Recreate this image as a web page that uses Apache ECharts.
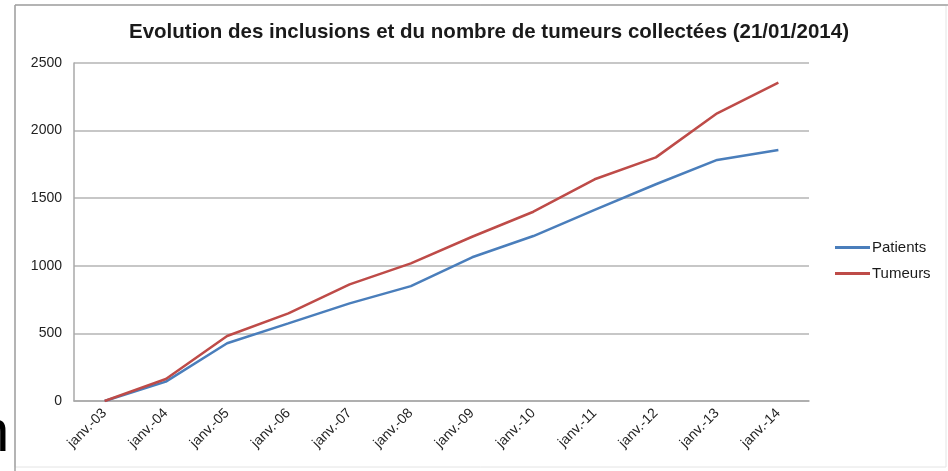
<!DOCTYPE html>
<html>
<head>
<meta charset="utf-8">
<script src="https://cdn.jsdelivr.net/npm/echarts@6/dist/echarts.min.js"></script>
<style>
  html, body { margin: 0; padding: 0; background: #fff; }
  #main { width: 948px; height: 471px; }
</style>
</head>
<body>
<div id="main"></div>
<script>
// catégories (mois de janvier de chaque année)
var months = ['janv.-03', 'janv.-04', 'janv.-05', 'janv.-06', 'janv.-07', 'janv.-08',
              'janv.-09', 'janv.-10', 'janv.-11', 'janv.-12', 'janv.-13', 'janv.-14'];
var patients = [0, 143, 427, 574, 722, 850, 1063, 1220, 1413, 1603, 1783, 1857];
var tumeurs = [0, 163, 481, 648, 863, 1018, 1215, 1400, 1640, 1802, 2128, 2355];
var yTicks = [0, 500, 1000, 1500, 2000, 2500];

var font = '"Liberation Sans", Arial, sans-serif';

var myChart = echarts.init(document.getElementById('main'));
myChart.setOption({
    animation: false,
    title: {
        text: 'Evolution des inclusions et du nombre de tumeurs collectées (21/01/2014)',
        left: 484,
        textAlign: 'center',
        top: 17,
        textStyle: {fontFamily: font, fontSize: 20.5, fontWeight: 'bold', color: '#1a1a1a'}
    },
    legend: {
        orient: 'vertical',
        left: 830,
        top: 235,
        icon: 'rect',
        itemWidth: 35,
        itemHeight: 3,
        itemGap: 11,
        textStyle: {fontFamily: font, fontSize: 15, color: '#1a1a1a', padding: [0, 0, 0, -3]},
        data: ['Patients', 'Tumeurs']
    },
    grid: {left: 74, right: 139, top: 63, bottom: 70, containLabel: false},
    xAxis: {
        type: 'category',
        data: months,
        boundaryGap: true,
        axisLine: {lineStyle: {color: '#a8a8a8', width: 1.5}},
        axisTick: {show: false},
        axisLabel: {rotate: 45, interval: 0, margin: 10, fontFamily: font, fontSize: 14, color: '#222'}
    },
    yAxis: {
        type: 'value',
        min: yTicks[0],
        max: yTicks[yTicks.length - 1],
        interval: 500,
        axisLine: {show: true, lineStyle: {color: '#a8a8a8', width: 1.5}},
        axisTick: {show: false},
        splitLine: {lineStyle: {color: '#b4b4b4', width: 1.5}},
        axisLabel: {
            margin: 12, fontFamily: font, fontSize: 14, color: '#222',
            formatter: function (v) { return String(v); }
        }
    },
    series: [
        {
            name: 'Patients',
            type: 'line',
            data: patients,
            symbol: 'none',
            lineStyle: {color: '#4a7ebb', width: 2.5},
            itemStyle: {color: '#4a7ebb'}
        },
        {
            name: 'Tumeurs',
            type: 'line',
            data: tumeurs,
            symbol: 'none',
            lineStyle: {color: '#be4b48', width: 2.5},
            itemStyle: {color: '#be4b48'}
        }
    ],
    graphic: [
        // cadre du graphique
        {type: 'rect', shape: {x: 15, y: 5, width: 931, height: 462}, style: {fill: 'none', stroke: '#e4e4e4', lineWidth: 1}},
        {type: 'line', shape: {x1: 15, y1: 5, x2: 948, y2: 5}, style: {stroke: '#a0a0a0', lineWidth: 1.5}},
        {type: 'line', shape: {x1: 15, y1: 5, x2: 15, y2: 471}, style: {stroke: '#a0a0a0', lineWidth: 1.5}},
        // reste d'une lettre de la diapositive
        {type: 'text', left: -24, top: 404, style: {text: 'n', font: '60px ' + font, fill: '#000'}}
    ]
});
</script>
</body>
</html>
